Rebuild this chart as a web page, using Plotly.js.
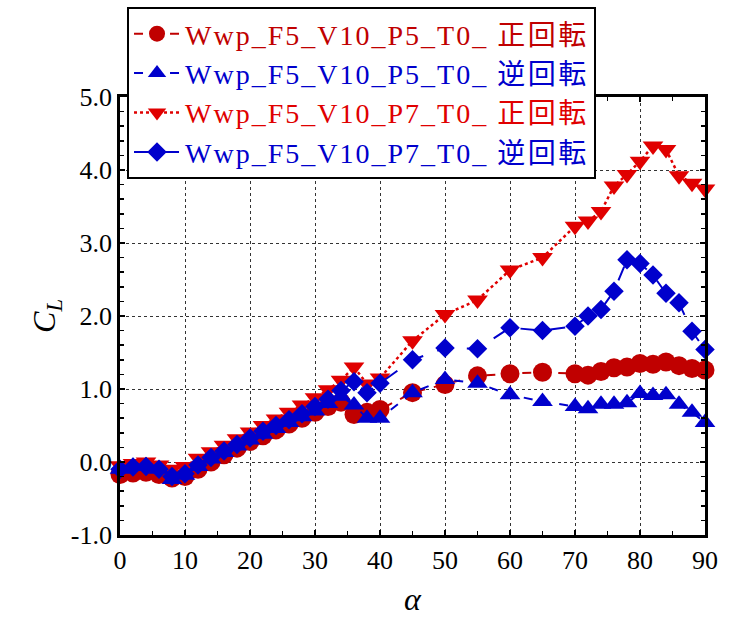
<!DOCTYPE html>
<html>
<head>
<meta charset="utf-8">
<script src="https://cdn.plot.ly/plotly-3.0.1.min.js"></script>
<style>html,body{margin:0;padding:0;background:#fff;}</style>
</head>
<body>
<div id="chart" style="width:730px;height:617px;"></div>
<script>
const alpha = [0,2,4,6,8,10,12,14,16,18,20,22,24,26,28,30,32,34,36,38,40,45,50,55,60,65,70,72,74,76,78,80,82,84,86,88,90];

const cl_P5_fwd = [-0.17,-0.15,-0.14,-0.17,-0.22,-0.20,-0.10,0.00,0.10,0.19,0.28,0.36,0.44,0.52,0.60,0.68,0.76,0.82,0.65,0.68,0.72,0.95,1.06,1.18,1.21,1.23,1.21,1.19,1.24,1.29,1.30,1.35,1.34,1.37,1.32,1.28,1.26];
const cl_P5_rev = [-0.10,-0.06,-0.05,-0.10,-0.24,-0.18,-0.06,0.04,0.13,0.22,0.30,0.38,0.46,0.54,0.62,0.70,0.80,0.90,0.78,0.60,0.60,0.95,1.13,1.08,0.92,0.83,0.76,0.73,0.79,0.79,0.81,0.94,0.91,0.92,0.79,0.68,0.54];
const cl_P7_fwd = [-0.05,-0.02,0.00,-0.04,-0.10,-0.06,0.05,0.14,0.23,0.32,0.41,0.50,0.59,0.68,0.78,0.88,0.99,1.12,1.30,1.07,1.15,1.66,2.02,2.22,2.63,2.80,3.23,3.30,3.43,3.78,3.94,4.12,4.33,4.28,3.92,3.82,3.74];
const cl_P7_rev = [-0.10,-0.07,-0.06,-0.10,-0.20,-0.16,-0.04,0.06,0.15,0.24,0.33,0.42,0.50,0.58,0.66,0.76,0.86,0.98,1.10,0.95,1.08,1.40,1.56,1.55,1.84,1.80,1.86,2.00,2.09,2.34,2.77,2.72,2.56,2.31,2.18,1.79,1.54];

const seriesNames = ["Wwp_F5_V10_P5_T0_", "Wwp_F5_V10_P5_T0_", "Wwp_F5_V10_P7_T0_", "Wwp_F5_V10_P7_T0_"];
const seriesSuffix = ["正回転", "逆回転", "正回転", "逆回転"];

const yTickVals = [-1, 0, 1, 2, 3, 4, 5];
const yTickText = ["-1.0", "0.0", "1.0", "2.0", "3.0", "4.0", "5.0"];

const RED1 = "#c00000", RED2 = "#e00000", BLUE = "#0000cc";
function nm(i, col) {
  return '<span style="color:' + col + ';letter-spacing:2px">' + seriesNames[i] + ' </span>' +
         '<span style="color:' + col + ';font-family:Noto Sans CJK JP;letter-spacing:2.5px">' + seriesSuffix[i] + '</span>';
}

const traces = [
  {x: alpha, y: cl_P5_fwd, name: nm(0, RED1), legendrank: 1, mode: "lines+markers", cliponaxis: false,
   line: {color: RED1, width: 2, dash: "dash"}, marker: {symbol: "circle", size: 19, color: RED1}},
  {x: alpha, y: cl_P7_fwd, name: nm(2, RED2), legendrank: 3, mode: "lines+markers", cliponaxis: false,
   line: {color: RED2, width: 2.5, dash: "dot"}, marker: {symbol: "triangle-down", size: 18, color: RED2}},
  {x: alpha, y: cl_P5_rev, name: nm(1, BLUE), legendrank: 2, mode: "lines+markers", cliponaxis: false,
   line: {color: BLUE, width: 2, dash: "dash"}, marker: {symbol: "triangle-up", size: 18, color: BLUE}},
  {x: alpha, y: cl_P7_rev, name: nm(3, BLUE), legendrank: 4, mode: "lines+markers", cliponaxis: false,
   line: {color: BLUE, width: 2, dash: "longdash"}, marker: {symbol: "diamond", size: 15, color: BLUE}}
];

const F = "Liberation Serif, Times New Roman, serif";
const axisCommon = {
  showline: true, linecolor: "#000", linewidth: 2.8, mirror: "ticks",
  ticks: "inside", ticklen: 5, tickwidth: 1.5, tickcolor: "#000",
  showgrid: true, gridcolor: "#333", griddash: "dot", gridwidth: 1,
  zeroline: false, tickfont: {family: F, size: 26, color: "#000"}
};

const layout = {
  width: 730, height: 617,
  margin: {l: 120, r: 25, t: 97, b: 82, pad: 0, autoexpand: false},
  paper_bgcolor: "#fff", plot_bgcolor: "#fff",
  font: {family: F, color: "#000"},
  showlegend: true,
  legend: {x: 0.012, y: 1.2055, xanchor: "left", yanchor: "top",
           bgcolor: "#fff", bordercolor: "#000", borderwidth: 2,
           font: {family: F, size: 28, color: "#000"}, itemwidth: 46, tracegroupgap: 0},
  xaxis: Object.assign({}, axisCommon, {
    range: [0, 90], tick0: 0, dtick: 10,
    minor: {dtick: 5, ticks: "inside", ticklen: 4, tickwidth: 1.5, tickcolor: "#000", showgrid: false},
    title: {text: "<i>α</i>", font: {family: F, size: 32}, standoff: 16}
  }),
  yaxis: Object.assign({}, axisCommon, {
    range: [-1, 5], tickmode: "array", tickvals: yTickVals, ticktext: yTickText,
    minor: {dtick: 0.2, ticks: "inside", ticklen: 4, tickwidth: 1.5, tickcolor: "#000", showgrid: false},
    title: {text: "<i>C<sub>L</sub></i>", font: {family: F, size: 32}, standoff: 6}
  })
};

Plotly.newPlot("chart", traces, layout, {displayModeBar: false, staticPlot: true});
</script>
</body>
</html>
